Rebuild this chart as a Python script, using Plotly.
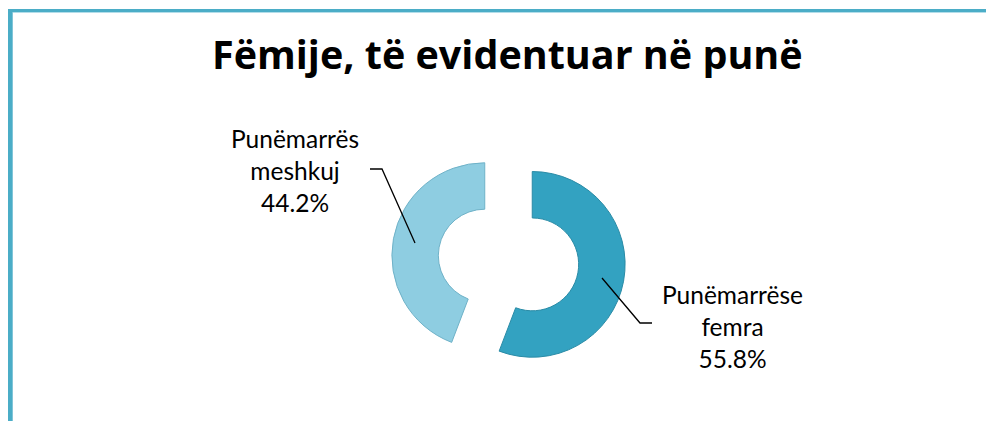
import plotly.graph_objects as go

title = "Fëmije, të evidentuar në punë"
categories = ["Punëmarrëse femra", "Punëmarrës meshkuj"]
label_lines = [["Punëmarrëse", "femra"], ["Punëmarrës", "meshkuj"]]
values = [55.8, 44.2]
colors = ["#33A2C1", "#8ECDE1"]
edge_colors = ["#2A8BA6", "#6FB2C8"]

W, H = 994, 421
OFF = 8  # page body margin
FONT = "Lato"

def px(x):
    return (x - OFF) / W

def py(y):
    return 1 - (y - OFF) / H

fig = go.Figure()
fig.add_trace(go.Pie(
    labels=categories,
    values=values,
    hole=0.5,
    sort=False,
    direction="clockwise",
    rotation=0,
    pull=[0.26, 0.26],
    marker=dict(colors=colors, line=dict(color=edge_colors, width=1)),
    textinfo="none",
    hoverinfo="label+percent",
    showlegend=False,
    domain=dict(x=[px(391.5), px(625.5)], y=[py(377), py(143)]),
))

total = sum(values)
pct = [f"{v / total * 100:.1f}%" for v in values]

# labels
label_pos = [(732, 326), (295, 171)]
for lines, p, (lx, ly) in zip(label_lines, pct, label_pos):
    fig.add_annotation(
        x=px(lx), y=py(ly), xref="paper", yref="paper",
        text="<br>".join(lines + [p]), showarrow=False,
        font=dict(family=FONT, size=24.5, color="#000000"),
        align="center", xanchor="center", yanchor="middle",
    )

# leader lines
leaders = [
    [(602, 278), (640, 323), (652, 323)],
    [(370, 169), (382, 169), (415, 243)],
]
for pts in leaders:
    path = "M " + " L ".join(f"{px(x)},{py(y)}" for x, y in pts)
    fig.add_shape(type="path", path=path, xref="paper", yref="paper",
                  line=dict(color="#000000", width=1.3))

# border
border = "#4BADC7"
fig.add_shape(type="rect", xref="paper", yref="paper",
              x0=px(7.6), x1=px(12.7), y0=py(440), y1=py(9),
              fillcolor=border, line=dict(width=0), layer="above")
fig.add_shape(type="rect", xref="paper", yref="paper",
              x0=px(7.6), x1=px(1010), y0=py(12.2), y1=py(9),
              fillcolor=border, line=dict(width=0), layer="above")
fig.add_shape(type="rect", xref="paper", yref="paper",
              x0=px(12.7), x1=px(1010), y0=py(13), y1=py(12.2),
              fillcolor="#A8D8E6", line=dict(width=0), layer="above")

fig.add_annotation(
    x=px(507.5), y=py(54), xref="paper", yref="paper",
    text=f"<b>{title}</b>", showarrow=False,
    font=dict(family="Open Sans", size=39.5, color="#000000"),
    xanchor="center", yanchor="middle",
)

fig.update_layout(
    width=W, height=H,
    margin=dict(l=0, r=0, t=0, b=0),
    paper_bgcolor="#FFFFFF",
    plot_bgcolor="#FFFFFF",
)

fig.write_html("out.html")
